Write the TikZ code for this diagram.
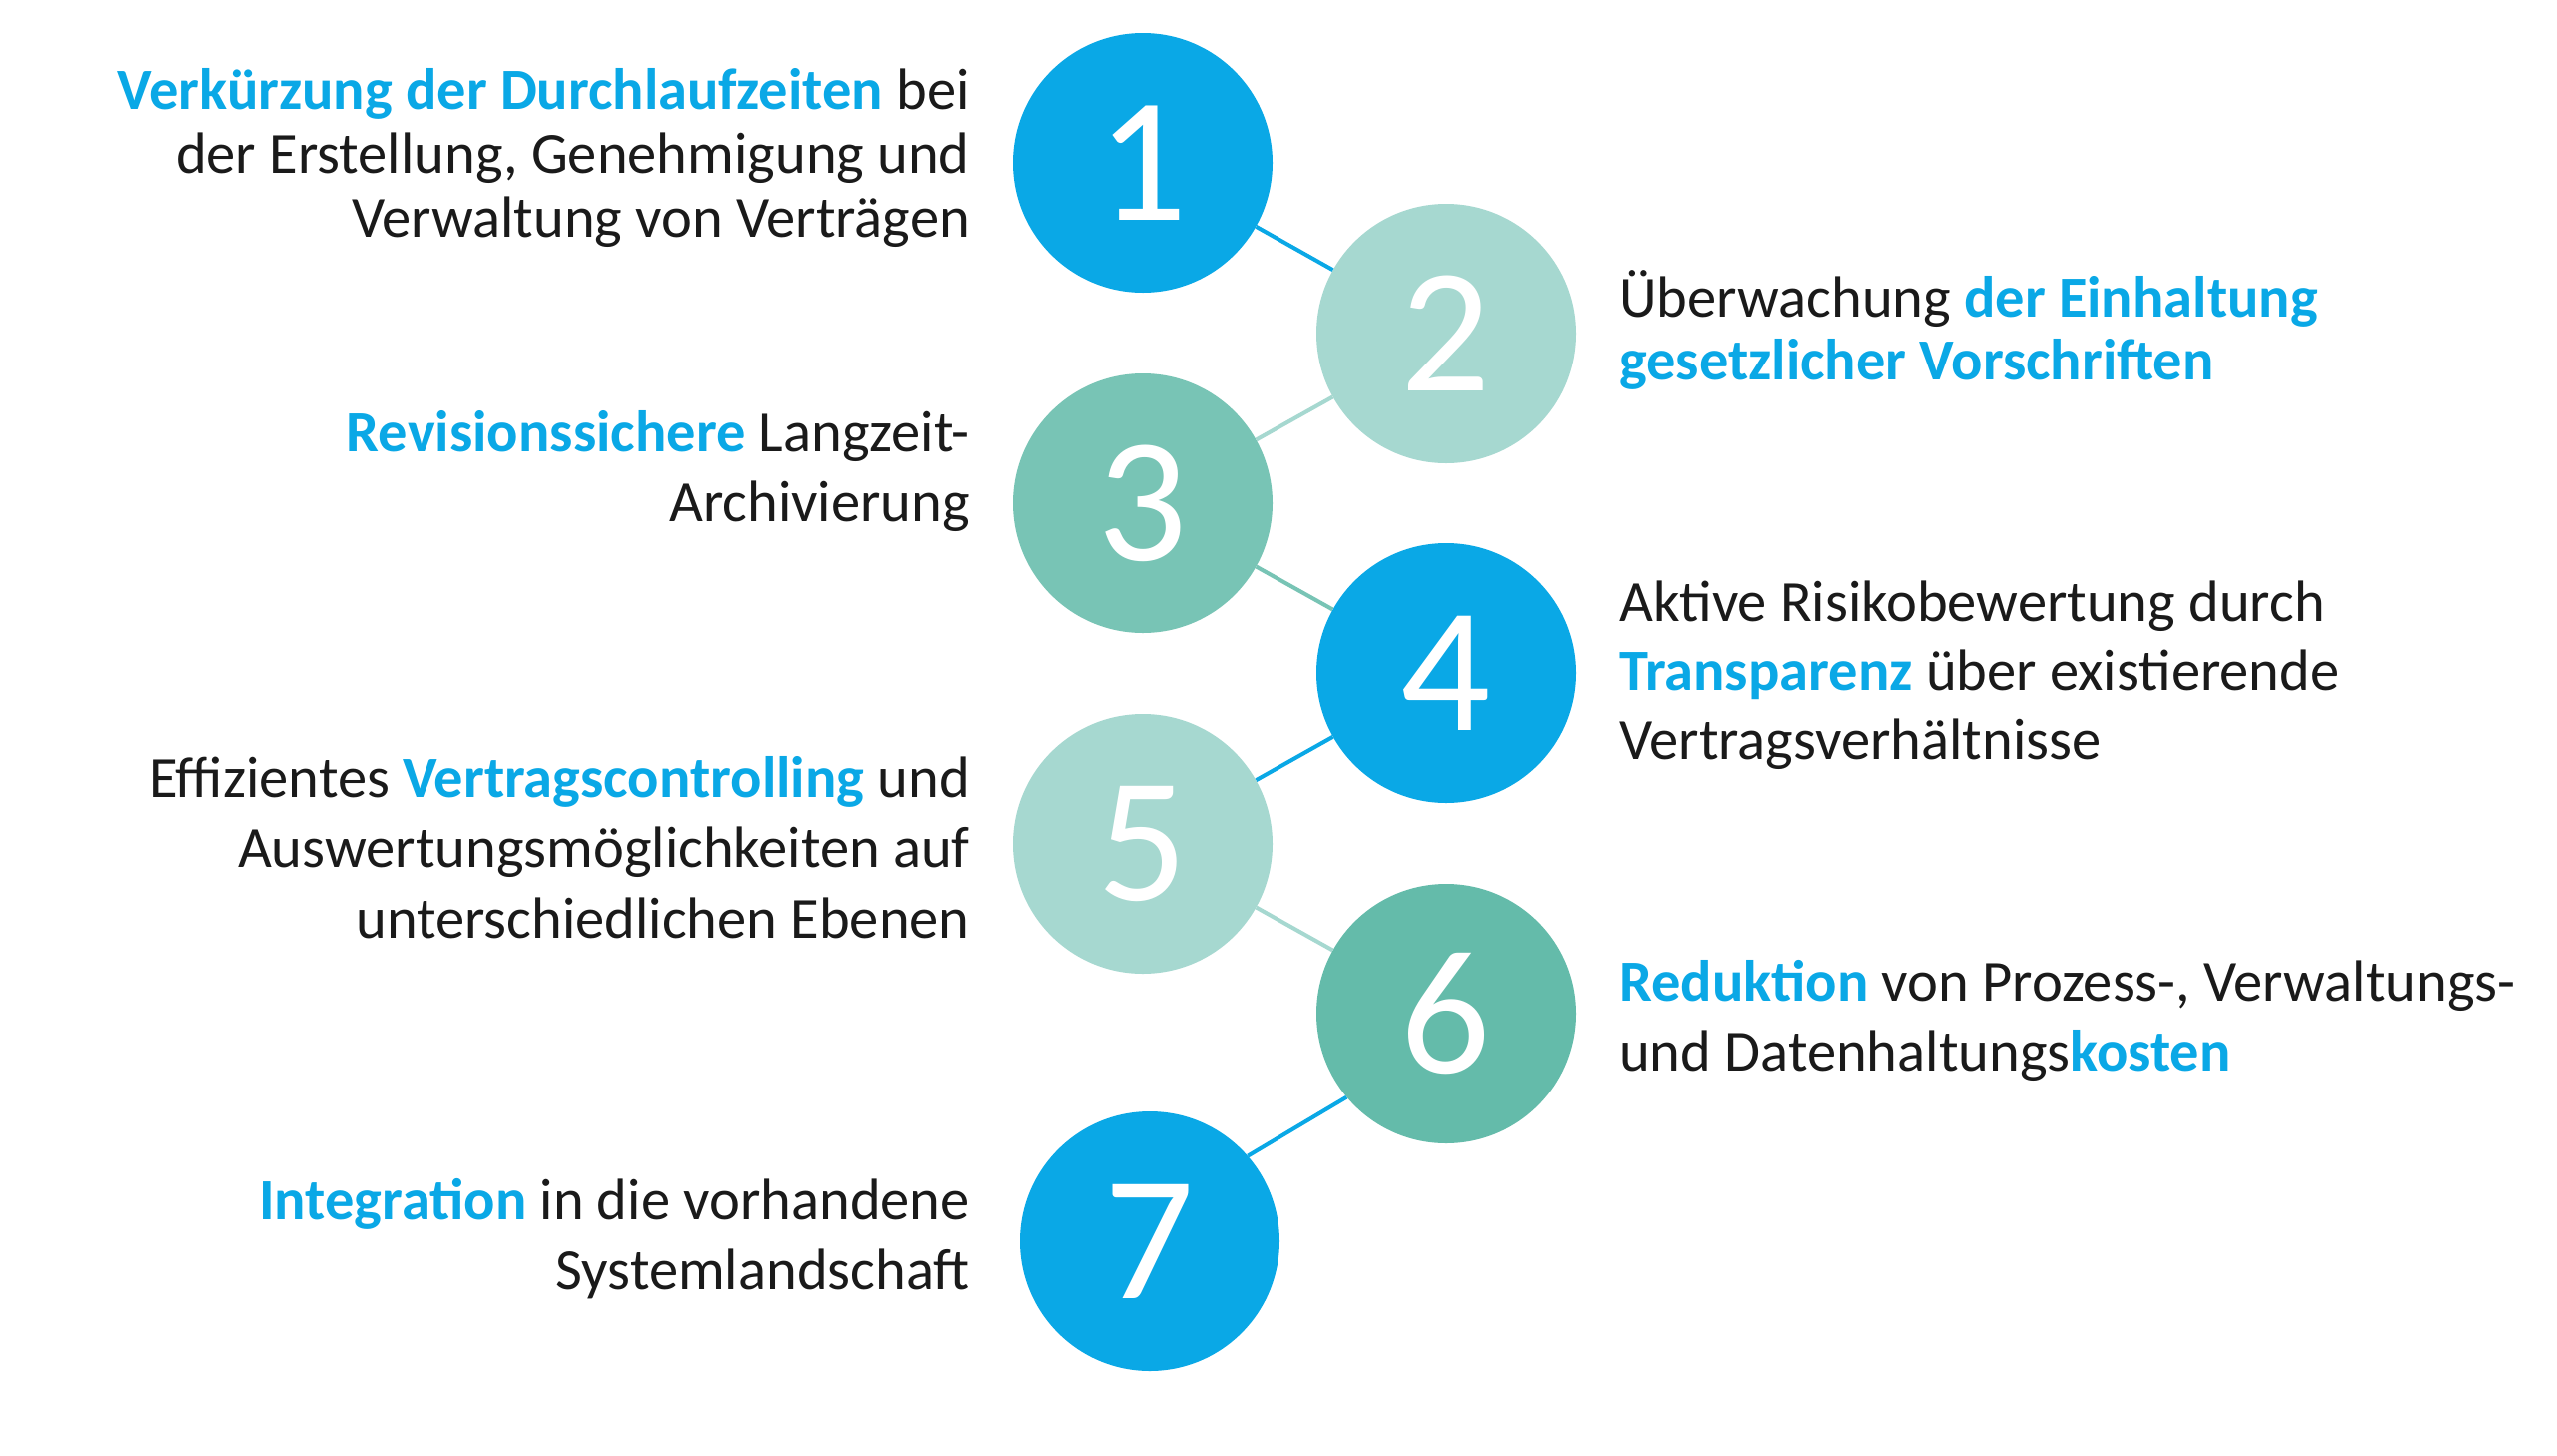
\documentclass[tikz,border=0pt]{standalone}
\usepackage{fontspec}
\setmainfont{Carlito}
\definecolor{cblue}{HTML}{0AA8E6}
\definecolor{clight}{HTML}{A6D8D0}
\definecolor{cmid}{HTML}{78C4B5}
\definecolor{cdark}{HTML}{64BBAA}
\definecolor{ctext}{HTML}{1A1A1A}
\newcommand\hb[1]{{\bfseries\color{cblue}#1}}
\begin{document}
\begin{tikzpicture}[x=1pt,y=-1pt,
  num/.style={circle, minimum size=260pt, inner sep=0pt, text=white, font=\fontsize{178}{178}\selectfont},
  lbl/.style={inner sep=0pt, text=ctext, font=\fontsize{58.5}{70}\selectfont},
  lft/.style={lbl, anchor=base east},
  rgt/.style={lbl, anchor=base west},
  link/.style={line width=4pt}]
\useasboundingbox[fill=white] (0,0) rectangle (2560,1457);
% circles
\node[num, fill=cblue]  (c1) at (1144,163)  {1};
\node[num, fill=clight] (c2) at (1448,334)  {2};
\node[num, fill=cmid]   (c3) at (1144,504)  {3};
\node[num, fill=cblue]  (c4) at (1448,674)  {4};
\node[num, fill=clight] (c5) at (1144,845)  {5};
\node[num, fill=cdark]  (c6) at (1448,1015) {6};
\node[num, fill=cblue]  (c7) at (1151,1243) {7};
% connectors
\draw[link, cblue]  (c1) -- (c2);
\draw[link, clight] (c2) -- (c3);
\draw[link, cmid]   (c3) -- (c4);
\draw[link, cblue]  (c4) -- (c5);
\draw[link, clight] (c5) -- (c6);
\draw[link, cblue]  (c6.220) -- (c7.41);
% left texts
\node[lft] (t1a) at (971,109) {\hb{Verkürzung der Durchlaufzeiten} bei};
\node[lft] (t1b) at (971,173) {der Erstellung, Genehmigung und};
\node[lft] (t1c) at (971,237) {Verwaltung von Verträgen};
\node[lft] (t3a) at (971,452) {\hb{Revisionssichere} Langzeit-};
\node[lft] (t3b) at (971,522) {Archivierung};
\node[lft] (t5a) at (971,798) {Effizientes \hb{Vertragscontrolling} und};
\node[lft] (t5b) at (971,868) {Auswertungsmöglichkeiten auf};
\node[lft] (t5c) at (971,939) {unterschiedlichen Ebenen};
\node[lft] (t7a) at (971,1221) {\hb{Integration} in die vorhandene};
\node[lft] (t7b) at (971,1291) {Systemlandschaft};
% right texts
\node[rgt] (t2a) at (1621,317) {Überwachung \hb{der Einhaltung}};
\node[rgt] (t2b) at (1621,380) {\hb{gesetzlicher Vorschriften}};
\node[rgt] (t4a) at (1621,622) {Aktive Risikobewertung durch};
\node[rgt] (t4b) at (1621,691) {\hb{Transparenz} über existierende};
\node[rgt] (t4c) at (1621,760) {Vertragsverhältnisse};
\node[rgt] (t6a) at (1621,1002) {\hb{Reduktion} von Prozess-, Verwaltungs-};
\node[rgt] (t6b) at (1621,1072) {und Datenhaltungs\hb{kosten}};
\end{tikzpicture}
\end{document}
